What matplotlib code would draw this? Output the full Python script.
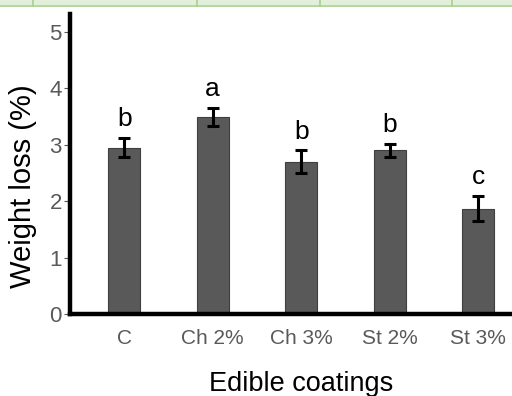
import numpy as np
import matplotlib.pyplot as plt
from matplotlib.patches import Rectangle
from matplotlib.lines import Line2D

# data
coatings = ["C", "Ch 2%", "Ch 3%", "St 2%", "St 3%"]
weight_loss = [2.95, 3.5, 2.7, 2.9, 1.87]
errors = [0.17, 0.16, 0.2, 0.12, 0.23]
letters = ["b", "a", "b", "b", "c"]

plt.rcParams['font.family'] = ['Liberation Sans', 'DejaVu Sans']

fig = plt.figure(figsize=(5.12, 3.96), dpi=100)
ax = fig.add_axes([0.137, 0.207, 0.863, 0.758])

x = np.arange(len(coatings))
ax.bar(x, weight_loss, width=0.36, color="#595959", edgecolor="#3f3f3f", linewidth=0.8)
ax.errorbar(x, weight_loss, yerr=errors, fmt="none", ecolor="black",
            elinewidth=2.2, capsize=4, capthick=2.2)
for xi, v, e, lab in zip(x, weight_loss, errors, letters):
    ax.text(xi, v + e + 0.12, lab, ha="center", va="bottom", fontsize=19, color="black")

ax.set_xlim(-0.61, 4.38)
ax.set_ylim(0, 5.32)
ax.set_yticks([0, 1, 2, 3, 4, 5])
ax.set_xticks(x)
ax.set_xticklabels(coatings, fontsize=15, color="#595959")
ax.tick_params(axis="x", length=0, pad=11)
ax.tick_params(axis="y", labelsize=16, labelcolor="#595959", color="#595959",
               length=4, width=0.8, pad=2)

for s in ["top", "right"]:
    ax.spines[s].set_visible(False)
for s in ["left", "bottom"]:
    ax.spines[s].set_linewidth(3.2)
    ax.spines[s].set_color("black")

ax.set_ylabel("Weight loss (%)", fontsize=21)
ax.yaxis.set_label_coords(-0.074, 0.427)
ax.set_xlabel("Edible coatings", fontsize=19.5)
ax.xaxis.set_label_coords(0.523, -0.19)

# green table border strip at top of the image
fig.patches.append(Rectangle((0, 1 - 5/396), 1, 5/396, transform=fig.transFigure,
                             facecolor="#e2efda", edgecolor="none"))
fig.lines.append(Line2D([0, 1], [1 - 5.5/396] * 2, transform=fig.transFigure,
                        color="#a9d08e", lw=1.2))
for px in [33, 197, 320, 452]:
    fig.lines.append(Line2D([px/512] * 2, [1 - 5.5/396, 1], transform=fig.transFigure,
                            color="#a9d08e", lw=1.2))

fig.savefig("out.png", dpi=100)
